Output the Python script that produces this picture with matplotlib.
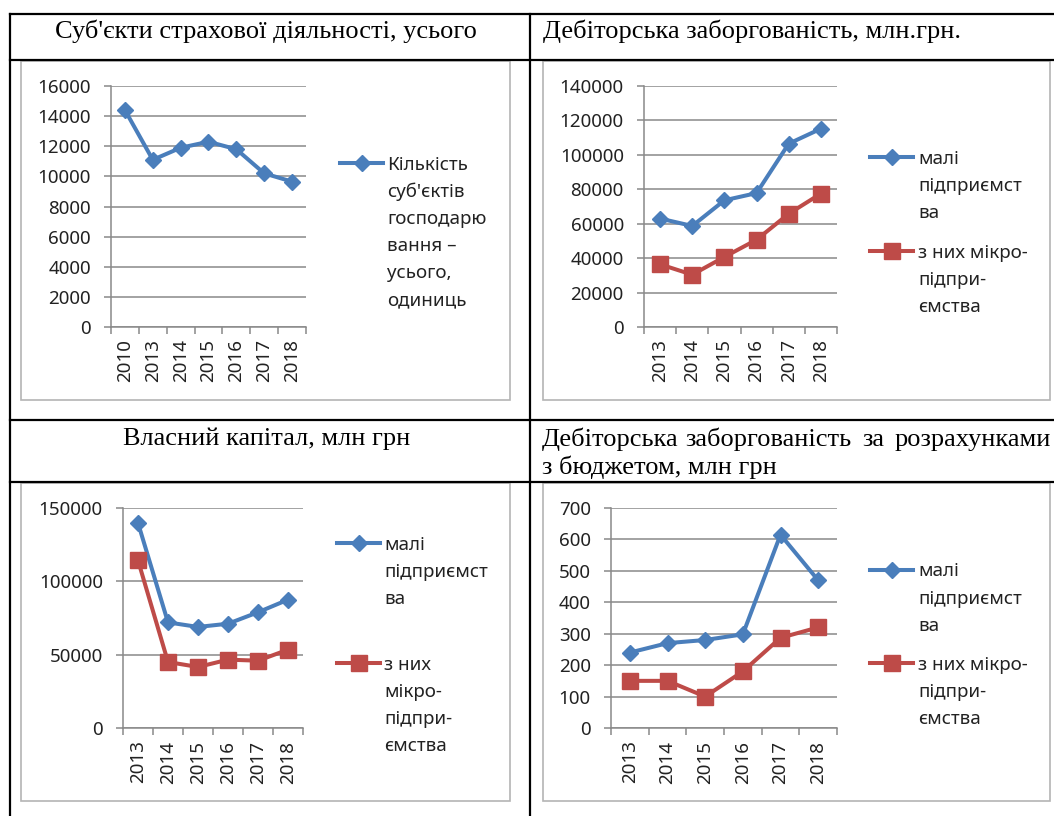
import numpy as np
import matplotlib.pyplot as plt
from matplotlib.lines import Line2D
from matplotlib.patches import Rectangle

# дані
years_total = ['2010', '2013', '2014', '2015', '2016', '2017', '2018']
subjects_total = [14400, 11100, 11900, 12300, 11800, 10200, 9650]

years = ['2013', '2014', '2015', '2016', '2017', '2018']
receivables_small = [63000, 58700, 73600, 77800, 106500, 115200]
receivables_micro = [36400, 30400, 40700, 50700, 65800, 77500]
equity_small = [139800, 72000, 68900, 71100, 78900, 87500]
equity_micro = [114300, 45000, 41600, 46600, 45900, 53400]
budget_small = [240, 270, 280, 298, 615, 470]
budget_micro = [150, 150, 100, 180, 287, 320]

label_total = ['Кількість', "суб'єктів", 'господарю', 'вання –', 'усього,', 'одиниць']
label_small = ['малі', 'підприємст', 'ва']
label_micro = ['з них мікро-', 'підпри-', 'ємства']
label_micro_narrow = ['з них', 'мікро-', 'підпри-', 'ємства']

BLUE = '#4A7EBB'
RED = '#BE4B48'
GRID = '#898989'
FRAME = '#B4B4B4'
SANS = ['Noto Sans', 'DejaVu Sans']
SERIF = ['Liberation Serif', 'DejaVu Serif']
TITLE_SIZE = 19

W, H = 1054, 816
fig = plt.figure(figsize=(W / 100, H / 100), dpi=100)


def fx(px):
    return px / W


def fy(py):
    return 1 - py / H


def hline(y, x0, x1):
    fig.add_artist(Line2D([fx(x0), fx(x1)], [fy(y), fy(y)], transform=fig.transFigure,
                          color='black', lw=1.6))


def vline(x, y0, y1):
    fig.add_artist(Line2D([fx(x), fx(x)], [fy(y0), fy(y1)], transform=fig.transFigure,
                          color='black', lw=1.6))


def frame(x0, y0, x1, y1):
    fig.add_artist(Rectangle((fx(x0), fy(y1)), (x1 - x0) / W, (y1 - y0) / H,
                             transform=fig.transFigure, fill=False, ec=FRAME, lw=1.2))


def chart(left, top, right, bottom, cats, ymax, ystep, series):
    ax = fig.add_axes([fx(left), fy(bottom), (right - left) / W, (bottom - top) / H])
    n = len(cats)
    x = np.arange(n)
    for vals, color, marker, ms in series:
        ax.plot(x, vals, color=color, lw=2.9, marker=marker, ms=ms, mfc=color, mec=color,
                clip_on=False, zorder=3)
    ax.set_xlim(-0.5, n - 0.5)
    ax.set_ylim(0, ymax)
    yt = np.arange(0, ymax + 1, ystep)
    ax.set_yticks(yt)
    ax.set_yticklabels([str(int(v)) for v in yt], family=SANS, fontsize=13.5, color='#222222')
    ax.set_xticks(x)
    ax.set_xticklabels(cats, rotation=90, family=SANS, fontsize=13.5, color='#222222')
    ax.set_xticks(np.arange(n + 1) - 0.5, minor=True)
    ax.tick_params(axis='x', which='major', length=0, pad=9)
    ax.tick_params(axis='x', which='minor', length=5, width=1.1, color=GRID, direction='out')
    ax.tick_params(axis='y', length=5, width=1.1, color=GRID, pad=9.5)
    ax.yaxis.grid(True, color=GRID, lw=1.1)
    ax.set_axisbelow(True)
    ax.set_facecolor('none')
    for s in ['top', 'right']:
        ax.spines[s].set_visible(False)
    for s in ['left', 'bottom']:
        ax.spines[s].set_color(GRID)
        ax.spines[s].set_linewidth(1.1)
    return ax


def legend_entry(x0, x1, y, color, marker, ms, lines, tx, dy=27.2):
    fig.add_artist(Line2D([fx(x0), fx(x1)], [fy(y), fy(y)], transform=fig.transFigure,
                          color=color, lw=2.9))
    fig.add_artist(Line2D([fx((x0 + x1) / 2)], [fy(y)], transform=fig.transFigure,
                          color=color, marker=marker, ms=ms, mfc=color, mec=color))
    for i, t in enumerate(lines):
        fig.text(fx(tx), fy(y + i * dy + 6.5), t, family=SANS, fontsize=13.5,
                 color='#222222', va='baseline', ha='left')


# таблиця
hline(14, 10, W)
hline(60, 10, W)
hline(420, 10, W)
hline(482, 10, W)
vline(10, 14, H)
vline(530, 14, H)

# рамки діаграм
frame(21, 61, 510, 400)
frame(543, 61, 1050, 400)
frame(21, 483, 510, 801)
frame(543, 483, 1050, 801)

# заголовки
fig.text(fx(266), fy(38), "Суб'єкти страхової діяльності, усього", family=SERIF,
         fontsize=TITLE_SIZE, ha='center', va='baseline')
fig.text(fx(543), fy(38), 'Дебіторська заборгованість, млн.грн.', family=SERIF,
         fontsize=TITLE_SIZE, ha='left', va='baseline')
fig.text(fx(267), fy(445), 'Власний капітал, млн грн', family=SERIF,
         fontsize=TITLE_SIZE, ha='center', va='baseline')
# перший рядок вирівняно по ширині: слова розставлено окремо
for word, xw, ha in [('Дебіторська', 542, 'left'), ('заборгованість', 685, 'left'),
                     ('за', 862, 'left'), ('розрахунками', 1051, 'right')]:
    fig.text(fx(xw), fy(446), word, family=SERIF, fontsize=TITLE_SIZE, ha=ha,
             va='baseline')
fig.text(fx(542), fy(474), 'з бюджетом, млн грн', family=SERIF,
         fontsize=TITLE_SIZE, ha='left', va='baseline')

# діаграми
chart(111, 86, 306, 327, years_total, 16000, 2000,
      [(subjects_total, BLUE, 'D', 8.5)])
legend_entry(340, 383, 163, BLUE, 'D', 8.5, label_total, 387)

chart(644, 86, 837, 327, years, 140000, 20000,
      [(receivables_small, BLUE, 'D', 8.5), (receivables_micro, RED, 's', 11)])
legend_entry(870, 913, 157, BLUE, 'D', 8.5, label_small, 918)
legend_entry(870, 913, 251, RED, 's', 11, label_micro, 918)

chart(123, 508, 303, 728, years, 150000, 50000,
      [(equity_small, BLUE, 'D', 8.5), (equity_micro, RED, 's', 11)])
legend_entry(337, 380, 543, BLUE, 'D', 8.5, label_small, 384)
legend_entry(337, 380, 663, RED, 's', 11, label_micro_narrow, 384)

chart(611, 508, 837, 728, years, 700, 100,
      [(budget_small, BLUE, 'D', 8.5), (budget_micro, RED, 's', 11)])
legend_entry(870, 913, 570, BLUE, 'D', 8.5, label_small, 918)
legend_entry(870, 913, 663, RED, 's', 11, label_micro, 918)

fig.savefig('out.png', dpi=100)
